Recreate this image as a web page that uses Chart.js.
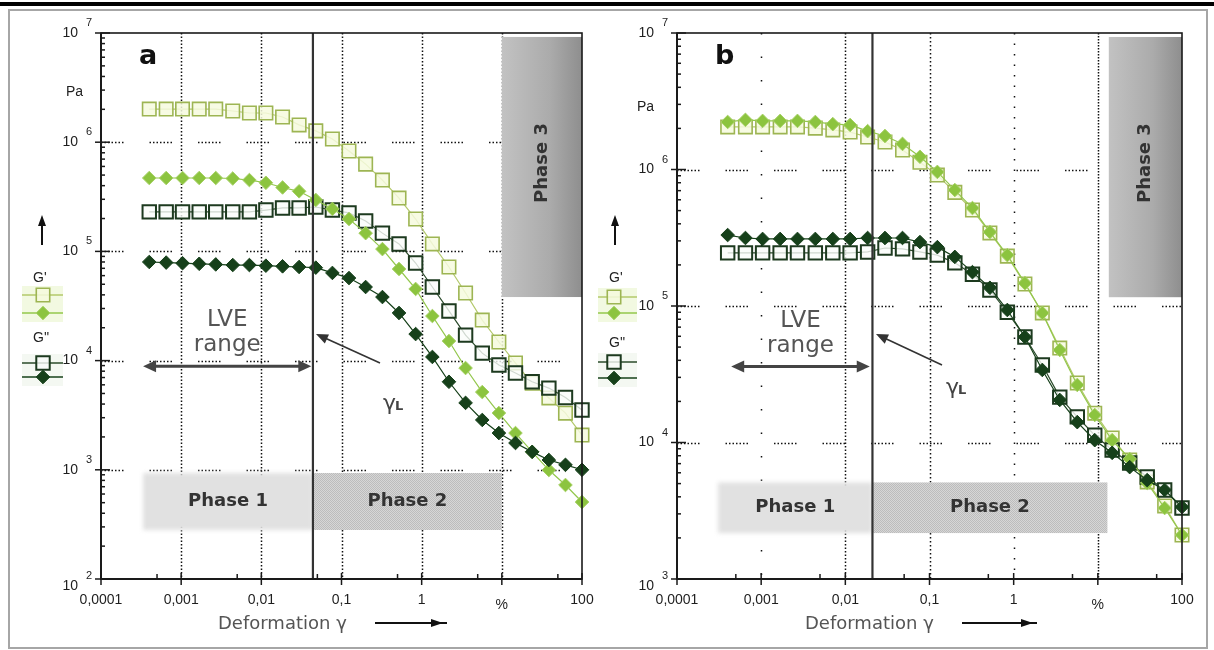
<!DOCTYPE html>
<html><head><meta charset="utf-8">
<script src="https://cdn.jsdelivr.net/npm/chart.js@4.4.0/dist/chart.umd.min.js"></script>
<style>
html,body{margin:0;padding:0;background:#fff;width:1214px;height:650px;overflow:hidden;}
#topbar{position:absolute;left:0;top:2px;width:1214px;height:4px;background:#000;}
#frame{position:absolute;left:8px;top:9px;width:1196px;height:636px;border:2px solid #a6a6a6;}
.wrap{position:absolute;}
</style></head><body>
<div id="topbar"></div><div id="frame"></div>
<div class="wrap" style="left:10px;top:12px;width:588px;height:633px"><canvas id="ca"></canvas></div>
<div class="wrap" style="left:598px;top:12px;width:606px;height:633px"><canvas id="cb"></canvas></div>
<script>
// ---------- data ----------
const strain = [0.0004, 0.00065, 0.00104, 0.00168, 0.0027, 0.0044, 0.0071, 0.0114, 0.0184, 0.0296,
  0.0478, 0.077, 0.124, 0.2, 0.324, 0.522, 0.841, 1.36, 2.19, 3.53, 5.7, 9.19, 14.8, 23.9, 38.6, 62.2, 100];

// panel a
const aGpSquare   = [2.01e6, 2.01e6, 2.01e6, 2.01e6, 2.01e6, 1.93e6, 1.85e6, 1.85e6, 1.70e6, 1.44e6, 1.27e6, 1.07e6, 8.3e5, 6.3e5, 4.5e5, 3.08e5, 1.98e5, 1.17e5, 7.2e4, 4.16e4, 2.35e4, 1.48e4, 9.5e3, 6.2e3, 4.55e3, 3.3e3, 2.08e3];
const aGpDiamond  = [4.7e5, 4.7e5, 4.7e5, 4.7e5, 4.7e5, 4.65e5, 4.5e5, 4.25e5, 3.85e5, 3.55e5, 2.96e5, 2.45e5, 1.98e5, 1.47e5, 1.05e5, 6.9e4, 4.53e4, 2.56e4, 1.51e4, 8.55e3, 5.15e3, 3.31e3, 2.17e3, 1.46e3, 995, 726, 507];
const aGppSquare  = [2.3e5, 2.3e5, 2.3e5, 2.3e5, 2.3e5, 2.3e5, 2.3e5, 2.39e5, 2.5e5, 2.5e5, 2.55e5, 2.39e5, 2.25e5, 1.9e5, 1.47e5, 1.17e5, 7.83e4, 4.72e4, 2.85e4, 1.71e4, 1.17e4, 9.1e3, 7.7e3, 6.4e3, 5.6e3, 4.6e3, 3.53e3];
const aGppDiamond = [8.0e4, 7.9e4, 7.8e4, 7.7e4, 7.6e4, 7.5e4, 7.5e4, 7.4e4, 7.3e4, 7.2e4, 7.1e4, 6.35e4, 5.7e4, 4.72e4, 3.82e4, 2.73e4, 1.75e4, 1.08e4, 6.4e3, 4.1e3, 2.86e3, 2.17e3, 1.76e3, 1.46e3, 1.23e3, 1.11e3, 1.0e3];
// panel b
const bGpSquare   = [2.05e6, 2.05e6, 2.05e6, 2.05e6, 2.05e6, 2.01e6, 1.95e6, 1.88e6, 1.73e6, 1.59e6, 1.39e6, 1.13e6, 9.1e5, 6.8e5, 5.05e5, 3.43e5, 2.32e5, 1.45e5, 8.9e4, 4.92e4, 2.73e4, 1.64e4, 1.08e4, 7.45e3, 5.14e3, 3.43e3, 2.1e3];
const bGpDiamond  = [2.23e6, 2.31e6, 2.27e6, 2.27e6, 2.27e6, 2.23e6, 2.15e6, 2.12e6, 1.91e6, 1.76e6, 1.54e6, 1.24e6, 9.6e5, 7.07e5, 5.22e5, 3.48e5, 2.36e5, 1.47e5, 8.9e4, 4.76e4, 2.64e4, 1.59e4, 1.04e4, 7.57e3, 5.05e3, 3.31e3, 2.1e3];
const bGppSquare  = [2.45e5, 2.45e5, 2.45e5, 2.45e5, 2.45e5, 2.45e5, 2.45e5, 2.45e5, 2.49e5, 2.66e5, 2.62e5, 2.49e5, 2.36e5, 2.07e5, 1.71e5, 1.31e5, 9.0e4, 5.93e4, 3.7e4, 2.15e4, 1.54e4, 1.13e4, 8.8e3, 7.08e3, 5.58e3, 4.49e3, 3.31e3];
const bGppDiamond = [3.31e5, 3.15e5, 3.1e5, 3.1e5, 3.1e5, 3.1e5, 3.1e5, 3.1e5, 3.15e5, 3.15e5, 3.15e5, 2.94e5, 2.7e5, 2.29e5, 1.77e5, 1.36e5, 9.35e4, 5.93e4, 3.4e4, 2.05e4, 1.41e4, 1.04e4, 8.4e3, 6.6e3, 5.3e3, 4.49e3, 3.37e3];

const seriesNames = ["G′ □", "G′ ◆", "G″ □", "G″ ◆"];
const xTickValues = [1e-4, 1e-3, 1e-2, 1e-1, 1, 10, 100];
const xTickLabels = ['0,0001', '0,001', '0,01', '0,1', '1', '%', '100'];
const yTicksA = [1e2, 1e3, 1e4, 1e5, 1e6, 1e7];
const yTicksB = [1e3, 1e4, 1e5, 1e6, 1e7];
const yExpA = ['2', '3', '4', '5', '6', '7'];
const yExpB = ['3', '4', '5', '6', '7'];

// ---------- styles ----------
const ST = [
  {ps:'rect',    r:9.5, fill:'rgba(246,250,222,0.85)', stroke:'#9db553', bw:1.6, line:'#b3c96b', order:3},
  {ps:'rectRot', r:6.8, fill:'#8cc43f', stroke:'#a6d065', bw:1,   line:'#93c74c', order:1},
  {ps:'rect',    r:9.5, fill:'rgba(250,252,250,0.8)', stroke:'#1d3a1f', bw:2, line:'#2a4a2a', order:2},
  {ps:'rectRot', r:6.8, fill:'#16401a', stroke:'#16401a', bw:1,   line:'#16401a', order:0}
];
const TICKFONT = '14px "Liberation Sans", Arial, sans-serif';
const VFONT = '"DejaVu Sans", Verdana, sans-serif';
const HD = [1.5,2,1.5,2,1.5,2,1.5,2,1.5,2,1.5,2,1.5,26];

function arrowHead(ctx, x, y, ang, len, hw) {
  ctx.beginPath();
  ctx.moveTo(x, y);
  ctx.lineTo(x - len*Math.cos(ang) + hw*Math.sin(ang), y - len*Math.sin(ang) - hw*Math.cos(ang));
  ctx.lineTo(x - len*Math.cos(ang) - hw*Math.sin(ang), y - len*Math.sin(ang) + hw*Math.cos(ang));
  ctx.closePath(); ctx.fill();
}
function drawMarker(ctx, kind, cx, cy) {
  const s = ST[kind];
  ctx.fillStyle = s.fill; ctx.strokeStyle = s.stroke; ctx.lineWidth = s.bw;
  ctx.beginPath();
  if (s.ps === 'rect') { const h = s.r*Math.SQRT1_2; ctx.rect(cx-h, cy-h, 2*h, 2*h); }
  else { ctx.moveTo(cx-s.r, cy); ctx.lineTo(cx, cy-s.r); ctx.lineTo(cx+s.r, cy); ctx.lineTo(cx, cy+s.r); ctx.closePath(); }
  ctx.fill(); ctx.stroke();
}

function decor(cfg) {
  return {
    id: 'decor',
    beforeDatasetsDraw(chart) {
      const {ctx, chartArea: ca, scales: {x, y}} = chart;
      ctx.save();
      // dotted grid
      ctx.strokeStyle = '#111'; ctx.lineWidth = 1.5;
      cfg.vGrid.forEach(([v, dash]) => {
        const X = Math.round(x.getPixelForValue(v)) + 0.5;
        ctx.setLineDash(dash); ctx.beginPath(); ctx.moveTo(X, ca.top); ctx.lineTo(X, ca.bottom); ctx.stroke();
      });
      ctx.setLineDash(HD); ctx.lineWidth = 1.3;
      cfg.hGrid.forEach(v => {
        const Y = Math.round(y.getPixelForValue(v)) + 0.5;
        ctx.beginPath(); ctx.moveTo(ca.left, Y); ctx.lineTo(ca.right, Y); ctx.stroke();
      });
      ctx.setLineDash([]);
      // phase boxes
      const bx = b => ({x1: x.getPixelForValue(b.x[0]), x2: x.getPixelForValue(b.x[1]), y1: y.getPixelForValue(b.y[1]), y2: y.getPixelForValue(b.y[0])});
      const p1 = bx(cfg.phase1), p2 = bx(cfg.phase2), p3 = bx(cfg.phase3);
      ctx.save(); ctx.filter = 'blur(2px)'; ctx.fillStyle = '#e1e1e1';
      ctx.fillRect(p1.x1, p1.y1, p1.x2 - p1.x1, p1.y2 - p1.y1); ctx.restore();
      const pc = document.createElement('canvas'); pc.width = 2; pc.height = 2;
      const pcx = pc.getContext('2d');
      pcx.fillStyle = '#d6d6d6'; pcx.fillRect(0,0,2,2);
      pcx.fillStyle = '#bcbcbc'; pcx.fillRect(0,0,1,1); pcx.fillRect(1,1,1,1);
      ctx.fillStyle = ctx.createPattern(pc, 'repeat');
      ctx.fillRect(p2.x1, p2.y1, p2.x2 - p2.x1, p2.y2 - p2.y1);
      const g = ctx.createLinearGradient(p3.x1, 0, p3.x2, 0);
      g.addColorStop(0, '#c2c2c2'); g.addColorStop(0.6, '#ababab'); g.addColorStop(1, '#8e8e8e');
      ctx.fillStyle = g; ctx.fillRect(p3.x1, p3.y1, p3.x2 - p3.x1, p3.y2 - p3.y1);
      chart.$boxes = {p1, p2, p3};
      ctx.restore();
    },
    afterDatasetsDraw(chart) {
      const {ctx, chartArea: ca, scales: {x, y}} = chart;
      const ox = cfg.ox, oy = cfg.oy;
      const {p1, p2, p3} = chart.$boxes;
      ctx.save();
      // gamma_L line
      const gx = x.getPixelForValue(cfg.gammaL);
      ctx.strokeStyle = '#333'; ctx.lineWidth = 2.2;
      ctx.beginPath(); ctx.moveTo(gx, ca.top); ctx.lineTo(gx, ca.bottom); ctx.stroke();
      // frame
      ctx.strokeStyle = '#1a1a1a'; ctx.lineWidth = 1.6;
      ctx.strokeRect(ca.left, ca.top, ca.right - ca.left, ca.bottom - ca.top);
      ctx.lineWidth = 2;
      ctx.beginPath(); ctx.moveTo(ca.left, ca.top); ctx.lineTo(ca.left, ca.bottom); ctx.lineTo(ca.right, ca.bottom); ctx.stroke();
      // y ticks
      ctx.lineWidth = 1.5;
      cfg.yTicks.forEach((v, i) => {
        const Y = y.getPixelForValue(v);
        ctx.beginPath(); ctx.moveTo(ca.left - 6, Y); ctx.lineTo(ca.left + 9, Y); ctx.stroke();
        if (i < cfg.yTicks.length - 1) {
          for (let m = 2; m <= 9; m++) {
            const Ym = y.getPixelForValue(v*m);
            ctx.beginPath(); ctx.moveTo(ca.left, Ym); ctx.lineTo(ca.left + 4, Ym); ctx.stroke();
          }
        }
      });
      // x ticks
      xTickValues.forEach((v, i) => {
        const X = x.getPixelForValue(v);
        ctx.beginPath(); ctx.moveTo(X, ca.bottom - 6); ctx.lineTo(X, ca.bottom + 6); ctx.stroke();
        if (i < xTickValues.length - 1) {
          const Xm = x.getPixelForValue(v*5);
          ctx.beginPath(); ctx.moveTo(Xm, ca.bottom - 5); ctx.lineTo(Xm, ca.bottom); ctx.stroke();
        }
      });
      // tick labels
      ctx.fillStyle = '#1e1e1e';
      ctx.font = TICKFONT; ctx.textBaseline = 'middle';
      cfg.yTicks.forEach((v, i) => {
        let Y = y.getPixelForValue(v);
        if (i === 0) Y += 7;
        ctx.textAlign = 'right'; ctx.font = TICKFONT;
        ctx.fillText('10', ca.left - 23, Y);
        ctx.textAlign = 'left'; ctx.font = '11px "Liberation Sans", Arial, sans-serif';
        ctx.fillText(cfg.yExp[i], ca.left - 15, Y - 10);
      });
      ctx.font = TICKFONT; ctx.textAlign = 'center';
      xTickValues.forEach((v, i) => {
        const X = x.getPixelForValue(v);
        ctx.fillText(xTickLabels[i], X, ca.bottom + (xTickLabels[i] === '%' ? 26 : 21));
      });
      // Pa
      ctx.textAlign = 'left';
      ctx.fillText('Pa', cfg.pa[0] - ox, cfg.pa[1] - oy);
      // axis title + arrow
      ctx.fillStyle = '#555'; ctx.font = '18px ' + VFONT; ctx.textAlign = 'left';
      ctx.fillText('Deformation γ', cfg.defo[0] - ox, 624 - oy);
      ctx.strokeStyle = '#111'; ctx.fillStyle = '#111'; ctx.lineWidth = 2;
      ctx.beginPath(); ctx.moveTo(cfg.defo[1] - ox, 623 - oy); ctx.lineTo(cfg.defo[2] - ox, 623 - oy); ctx.stroke();
      arrowHead(ctx, cfg.defo[2] - 4 - ox, 623 - oy, 0, 12, 4);
      // up arrow
      ctx.beginPath(); ctx.moveTo(cfg.up[0] - ox, 245 - oy); ctx.lineTo(cfg.up[0] - ox, 222 - oy); ctx.stroke();
      arrowHead(ctx, cfg.up[0] - ox, 215 - oy, -Math.PI/2, 11, 4);
      // panel letter
      ctx.fillStyle = '#111'; ctx.font = 'bold 27px ' + VFONT; ctx.textAlign = 'left'; ctx.textBaseline = 'alphabetic';
      ctx.fillText(cfg.letter, cfg.letterPos[0] - ox, cfg.letterPos[1] - oy);
      // phase texts
      ctx.fillStyle = '#333'; ctx.font = 'bold 18px ' + VFONT; ctx.textAlign = 'center'; ctx.textBaseline = 'middle';
      ctx.fillText('Phase 1', (p1.x1 + p1.x2)/2, (p1.y1 + p1.y2)/2);
      ctx.fillText('Phase 2', (p2.x1 + p2.x2)/2, (p2.y1 + p2.y2)/2);
      ctx.save(); ctx.translate((p3.x1 + p3.x2)/2, (p3.y1 + p3.y2)/2 - 4); ctx.rotate(-Math.PI/2);
      ctx.fillText('Phase 3', 0, 0); ctx.restore();
      // LVE range arrow
      const lx1 = x.getPixelForValue(cfg.lve[0]), lx2 = x.getPixelForValue(cfg.lve[1]), ly = y.getPixelForValue(cfg.lveY);
      ctx.strokeStyle = '#444'; ctx.fillStyle = '#444'; ctx.lineWidth = 3;
      ctx.beginPath(); ctx.moveTo(lx1 + 8, ly); ctx.lineTo(lx2 - 8, ly); ctx.stroke();
      arrowHead(ctx, lx1, ly, Math.PI, 13, 6); arrowHead(ctx, lx2, ly, 0, 13, 6);
      ctx.fillStyle = '#555'; ctx.font = '23px ' + VFONT;
      ctx.fillText('LVE', (lx1 + lx2)/2, ly - 46);
      ctx.fillText('range', (lx1 + lx2)/2, ly - 21);
      // gamma_L arrow + label
      const ga = cfg.gArrow;
      ctx.strokeStyle = '#333'; ctx.fillStyle = '#333'; ctx.lineWidth = 1.6;
      const ang = Math.atan2(ga[3] - ga[1], ga[2] - ga[0]);
      ctx.beginPath(); ctx.moveTo(ga[0] - ox, ga[1] - oy); ctx.lineTo(ga[2] - ox - 8*Math.cos(ang), ga[3] - oy - 8*Math.sin(ang)); ctx.stroke();
      arrowHead(ctx, ga[2] - ox, ga[3] - oy, ang, 12, 5);
      ctx.fillStyle = '#444'; ctx.textAlign = 'left'; ctx.textBaseline = 'alphabetic';
      ctx.font = '22px ' + VFONT; ctx.fillText('γ', cfg.gText[0] - ox, cfg.gText[1] - oy);
      ctx.font = 'bold 13px ' + VFONT; ctx.fillText('L', cfg.gText[0] + 12 - ox, cfg.gText[1] - oy);
      // legend
      const L = cfg.leg;
      ctx.fillStyle = 'rgba(232,244,200,0.55)';
      ctx.fillRect(L.x1 - ox, L.rows[0] - 9 - oy, L.x2 - L.x1, L.rows[1] - L.rows[0] + 18);
      ctx.fillStyle = 'rgba(236,244,234,0.6)';
      ctx.fillRect(L.x1 - ox, L.rows[2] - 9 - oy, L.x2 - L.x1, L.rows[3] - L.rows[2] + 18);
      ctx.fillStyle = '#222'; ctx.font = TICKFONT; ctx.textAlign = 'left'; ctx.textBaseline = 'middle';
      ctx.fillText("G'", L.tx - ox, L.t1 - oy);
      ctx.fillText("G''", L.tx - ox, L.t2 - oy);
      L.rows.forEach((ry, k) => {
        ctx.strokeStyle = ST[k].line; ctx.lineWidth = 1.5;
        ctx.beginPath(); ctx.moveTo(L.x1 - ox, ry - oy); ctx.lineTo(L.x2 - ox, ry - oy); ctx.stroke();
        drawMarker(ctx, k, L.mx - ox, ry - oy);
      });
      ctx.restore();
    }
  };
}

const panels = [
  {id:'ca', ox:10, oy:12, letter:'a', letterPos:[139, 64],
   pad:{left:91, top:21, right:16, bottom:66},
   yMin:1e2, yMax:1e7, yTicks:yTicksA, yExp:yExpA,
   series:[aGpSquare, aGpDiamond, aGppSquare, aGppDiamond],
   gammaL:0.044,
   vGrid:[[1e-3,[1.5,2]],[1e-2,[1.5,2]],[1e-1,[1.5,2]],[1,[1.5,2]],[10,[1.5,2]]],
   hGrid:[1e3,1e4,1e5,1e6],
   phase1:{x:[3.35e-4,0.044], y:[281,935]}, phase2:{x:[0.044,10], y:[281,935]}, phase3:{x:[10,100], y:[3.82e4,9.2e6]},
   lve:[3.35e-4,0.042], lveY:8.9e3,
   gArrow:[380,363,316,334], gText:[383,410],
   pa:[66,92], defo:[218,375,447], up:[42],
   leg:{tx:33, t1:278, t2:338, x1:22, x2:63, mx:43, rows:[295,313,363,377]}},
  {id:'cb', ox:598, oy:12, letter:'b', letterPos:[715, 64],
   pad:{left:79, top:21, right:22, bottom:66},
   yMin:1e3, yMax:1e7, yTicks:yTicksB, yExp:yExpB,
   series:[bGpSquare, bGpDiamond, bGppSquare, bGppDiamond],
   gammaL:0.021,
   vGrid:[[1e-3,[1.5,22]],[1e-2,[1.5,2]],[1e-1,[1.5,2.5]],[1,[1.5,9]],[10,[1.5,1.5]]],
   hGrid:[1e4,1e5,1e6],
   phase1:{x:[3.07e-4,0.021], y:[2.17e3,5.1e3]}, phase2:{x:[0.021,13], y:[2.17e3,5.1e3]}, phase3:{x:[13.5,100], y:[1.16e5,9.35e6]},
   lve:[4.4e-4,0.0195], lveY:3.6e4,
   gArrow:[942,365,876,334], gText:[946,394],
   pa:[637,107], defo:[805,962,1037], up:[615],
   leg:{tx:609, t1:278, t2:343, x1:596, x2:637, mx:614, rows:[297,313,362,378]}}
];

panels.forEach(cfg => {
  new Chart(document.getElementById(cfg.id), {
    type: 'line',
    data: {datasets: cfg.series.map((vals, i) => ({
      label: seriesNames[i],
      data: strain.map((s, k) => ({x: s, y: vals[k]})),
      pointStyle: ST[i].ps, pointRadius: ST[i].r, pointHoverRadius: ST[i].r,
      pointBackgroundColor: ST[i].fill, pointBorderColor: ST[i].stroke, pointBorderWidth: ST[i].bw,
      borderColor: ST[i].line, backgroundColor: ST[i].fill, borderWidth: 1.2,
      fill: false, tension: 0, order: ST[i].order, clip: false
    }))},
    options: {
      responsive: true, maintainAspectRatio: false, animation: false, events: [],
      layout: {padding: cfg.pad},
      plugins: {legend: {display: false}, tooltip: {enabled: false}},
      scales: {
        x: {type: 'logarithmic', min: 1e-4, max: 100, ticks: {display: false}, grid: {display: false, drawTicks: false}, border: {display: false}},
        y: {type: 'logarithmic', min: cfg.yMin, max: cfg.yMax, ticks: {display: false}, grid: {display: false, drawTicks: false}, border: {display: false}}
      }
    },
    plugins: [decor(cfg)]
  });
});
</script>
</body></html>
